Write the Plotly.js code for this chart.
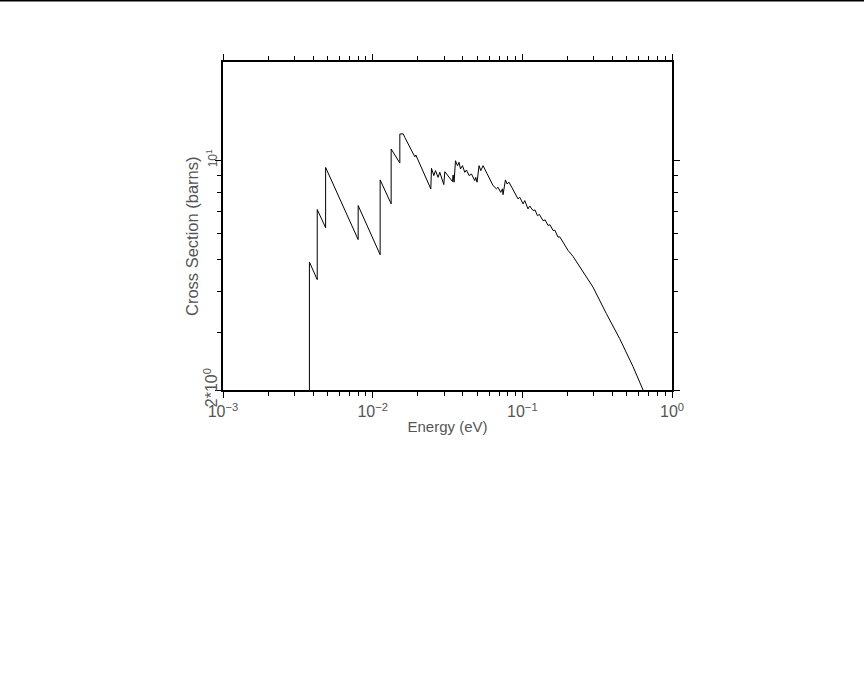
<!DOCTYPE html>
<html>
<head>
<meta charset="utf-8">
<script src="https://cdn.plot.ly/plotly-3.0.1.min.js"></script>
<style>
html,body{margin:0;padding:0;background:#fff;}
#chart{width:864px;height:697px;}
</style>
</head>
<body>
<div id="chart"></div>
<script>
// Energy (eV)
const energy = [
  0.003779, 0.003779, 0.004261, 0.004261, 0.004849, 0.004849, 0.008001, 0.008001,
  0.01122, 0.01122, 0.01329, 0.01329, 0.01519, 0.01519, 0.01598, 0.01641,
  0.01913, 0.01943, 0.02446, 0.02472, 0.02562, 0.02630, 0.02736, 0.02809,
  0.02987, 0.03034, 0.03415, 0.03446, 0.03499, 0.03575, 0.03687, 0.03779,
  0.03861, 0.03982, 0.04125, 0.04234, 0.04407, 0.04573, 0.04810, 0.04886,
  0.04984, 0.05139, 0.05277, 0.05383, 0.05467, 0.06374, 0.06715, 0.06882,
  0.07176, 0.07364, 0.07432, 0.07710, 0.07903, 0.08149, 0.09133, 0.09360,
  0.09607, 0.1011, 0.1038, 0.1091, 0.1120, 0.1179, 0.1215, 0.1262,
  0.1300, 0.1375, 0.1420, 0.1485, 0.1530, 0.1603, 0.1650, 0.1731,
  0.1780, 0.1869, 0.2019, 0.2181, 0.2416, 0.2965, 0.3641,
  0.4468, 0.5483, 0.6459, 0.70
];
// Cross section (barns)
const crossSection = [
  1.9, 4.91, 4.34, 7.10, 6.25, 9.54, 5.75, 7.30,
  5.17, 8.74, 7.39, 10.86, 9.84, 12.06, 12.08, 11.77,
  10.28, 10.41, 8.21, 9.48, 9.01, 9.33, 8.90, 9.22,
  8.46, 9.26, 8.64, 9.05, 8.60, 10.0, 9.66, 9.89,
  9.44, 9.66, 9.22, 9.37, 9.01, 9.11, 8.70, 8.90,
  8.60, 9.66, 9.33, 9.54, 9.66, 8.40, 8.21, 8.30,
  8.01, 8.21, 7.88, 8.74, 8.50, 8.60, 7.83, 7.65,
  7.74, 7.39, 7.56, 7.13, 7.28, 7.05, 7.08, 6.80,
  6.86, 6.57, 6.60, 6.35, 6.38, 6.13, 6.14, 5.85,
  5.86, 5.65, 5.33, 5.11, 4.76, 4.12, 3.42,
  2.87, 2.36, 2.0, 1.82
];

const xTickVals = [0.001, 0.01, 0.1, 1];
const xTickText = ["10<sup>−3</sup>", "10<sup>−2</sup>", "10<sup>−1</sup>", "10<sup>0</sup>"];
const xMinorVals = [];
[0.001, 0.01, 0.1].forEach(d => { for (let k = 2; k <= 9; k++) xMinorVals.push(+(d * k).toPrecision(3)); });
const yTickVals = [2, 10];
const yTickText = ["2*10<sup>0</sup>", "<span style='font-size:12px'>10<sup>1</sup></span>"];
const yMinorVals = [3, 4, 5, 6, 7, 8, 9];
const xTitle = "Energy (eV)";
const yTitle = "Cross Section (barns)";

const FONT = "Liberation Sans, Arial, sans-serif";
const TXT = "#555";

const trace = {
  x: energy, y: crossSection, type: "scatter", mode: "lines",
  line: {color: "#000", width: 1}, hoverinfo: "skip"
};

const layout = {
  width: 864, height: 697,
  paper_bgcolor: "#fff", plot_bgcolor: "#fff",
  margin: {l: 223, r: 192, t: 62, b: 307, pad: 0},
  showlegend: false,
  font: {family: FONT, color: TXT, size: 15},
  xaxis: {
    type: "log", range: [-3, 0],
    showgrid: false, zeroline: false,
    showline: true, linecolor: "#000", linewidth: 2.2, mirror: "allticks",
    ticks: "outside", ticklen: 6, tickwidth: 1, tickcolor: "#000",
    tickmode: "array", tickvals: xTickVals, ticktext: xTickText,
    tickfont: {family: FONT, color: TXT, size: 16},
    minor: {tickmode: "array", tickvals: xMinorVals, ticks: "outside", ticklen: 4, tickwidth: 1, tickcolor: "#000", showgrid: false},
    title: {text: xTitle, font: {family: FONT, color: TXT, size: 15}, standoff: 2}
  },
  yaxis: {
    type: "log", range: [Math.log10(2), Math.log10(20)],
    showgrid: false, zeroline: false,
    showline: true, linecolor: "#000", linewidth: 2.2, mirror: "allticks",
    ticks: "outside", ticklen: 6, tickwidth: 1, tickcolor: "#000",
    tickmode: "array", tickvals: yTickVals, ticktext: yTickText, tickangle: -90,
    ticklabelstandoff: -9,
    tickfont: {family: FONT, color: TXT, size: 16},
    minor: {tickmode: "array", tickvals: yMinorVals, ticks: "outside", ticklen: 4, tickwidth: 1, tickcolor: "#000", showgrid: false}
  },
  annotations: [
    {text: yTitle, xref: "paper", yref: "paper", x: -0.069, y: 0.4695,
     xanchor: "center", yanchor: "middle", textangle: -90, showarrow: false,
     font: {family: FONT, color: TXT, size: 16.5}}
  ],
  shapes: [
    {type: "line", xref: "paper", yref: "paper", x0: -0.6, x1: 1.5, y0: 1.187, y1: 1.187, line: {color: "#000", width: 1.5}}
  ]
};

Plotly.newPlot("chart", [trace], layout, {staticPlot: true, displayModeBar: false});
</script>
</body>
</html>
